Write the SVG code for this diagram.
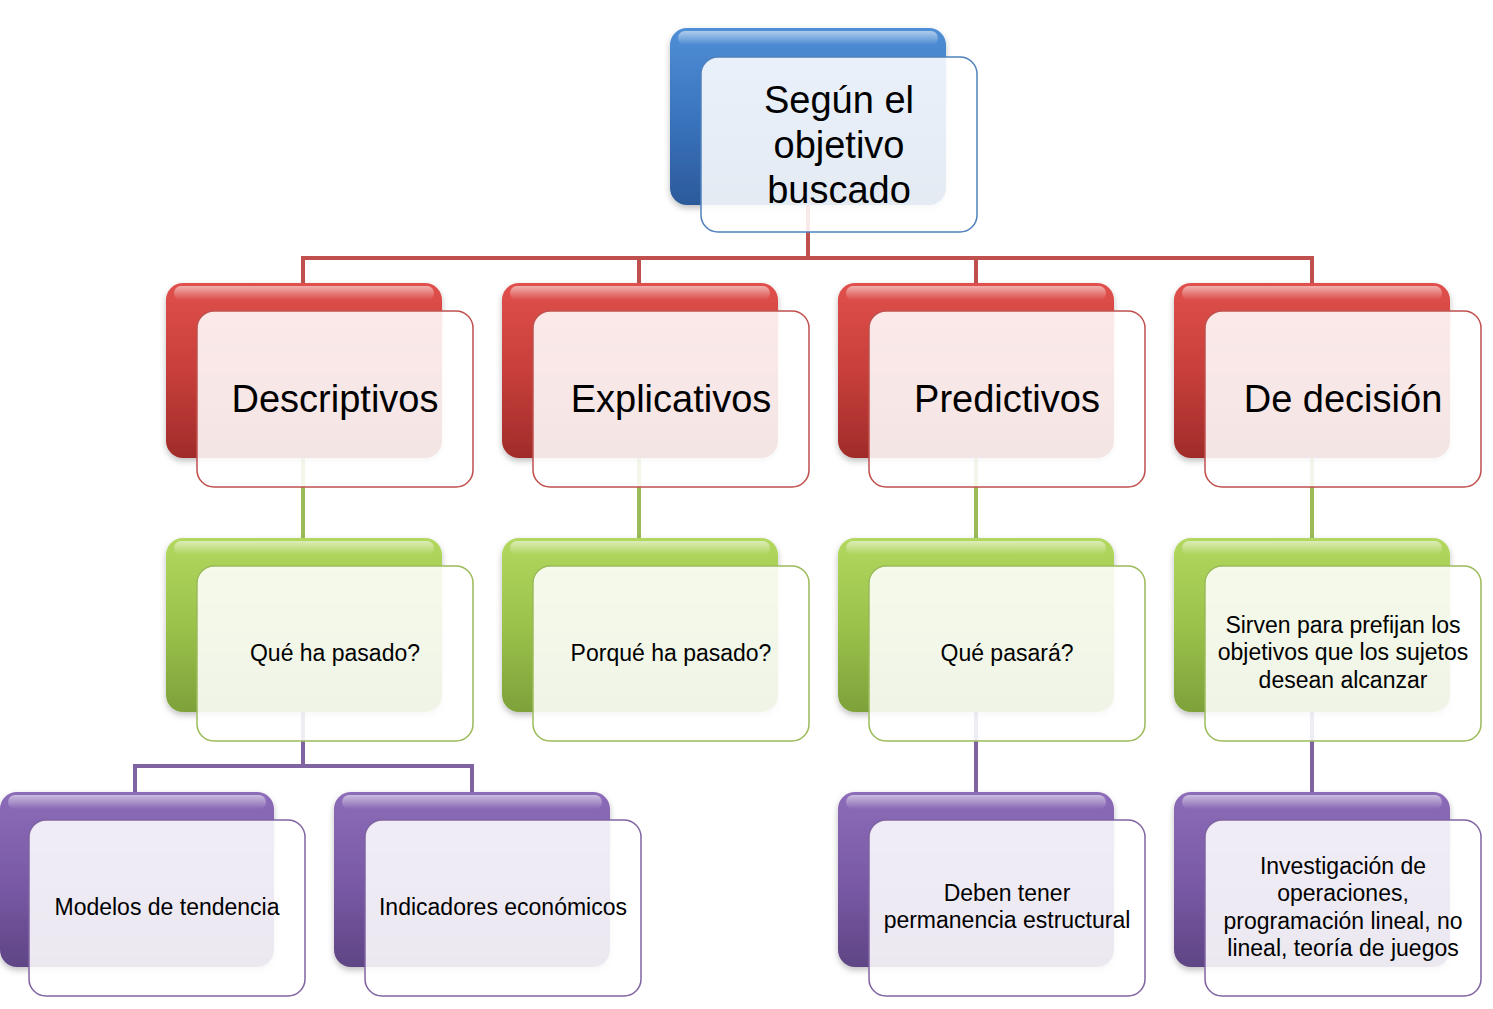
<svg xmlns="http://www.w3.org/2000/svg" width="1493" height="1009" viewBox="0 0 1493 1009">
<defs>
<linearGradient id="gB" x1="0" y1="0" x2="0" y2="1"><stop offset="0" stop-color="#4f8fd6"/><stop offset="0.5" stop-color="#3a74bf"/><stop offset="1" stop-color="#2c5a9a"/></linearGradient>
<linearGradient id="gR" x1="0" y1="0" x2="0" y2="1"><stop offset="0" stop-color="#e0504b"/><stop offset="0.5" stop-color="#c83f3b"/><stop offset="1" stop-color="#a02c2a"/></linearGradient>
<linearGradient id="gG" x1="0" y1="0" x2="0" y2="1"><stop offset="0" stop-color="#b2d85f"/><stop offset="0.5" stop-color="#9bc24b"/><stop offset="1" stop-color="#7ea13a"/></linearGradient>
<linearGradient id="gP" x1="0" y1="0" x2="0" y2="1"><stop offset="0" stop-color="#8c6cb8"/><stop offset="0.5" stop-color="#7a5aa6"/><stop offset="1" stop-color="#5f4585"/></linearGradient>
<linearGradient id="shine" x1="0" y1="0" x2="0" y2="1"><stop offset="0" stop-color="#fff" stop-opacity="0.55"/><stop offset="1" stop-color="#fff" stop-opacity="0"/></linearGradient>
<filter id="sh" x="-10%" y="-10%" width="120%" height="130%"><feDropShadow dx="0" dy="3" stdDeviation="3" flood-color="#000" flood-opacity="0.25"/></filter>
</defs>
<style>
.back{filter:url(#sh)}
.front{fill:#fff;fill-opacity:0.88;stroke-width:1.5}
.hl{fill:url(#shine)}
.t{font-family:"Liberation Sans","Open Sans",sans-serif;fill:#000;text-anchor:middle}
.big{font-size:38px}
.sm{font-size:23px}
.c{fill:none;stroke-width:4}
</style>
<g id="connectors">
<path class="c" stroke="#c0504d" d="M808 205V258M303 258H1312M303 256V290M639 256V290M976 256V290M1312 256V290"/>
<path class="c" stroke="#9bbb59" d="M303 458V545M639 458V545M976 458V545M1312 458V545"/>
<path class="c" stroke="#8064a2" d="M303 712V766M135 766H472M135 764V798M472 764V798M976 712V798M1312 712V798"/>
</g>
<g id="n0">
<rect class="back" x="670" y="28" width="276" height="177" rx="17" fill="url(#gB)"/>
<rect class="hl" x="678" y="31" width="260" height="14" rx="7"/>
<rect class="front" x="701" y="57" width="276" height="175" rx="17" stroke="#4f81bd"/>
<text class="t big" x="839" y="113">Según el</text>
<text class="t big" x="839" y="158">objetivo</text>
<text class="t big" x="839" y="203">buscado</text>
</g>
<g id="n1">
<rect class="back" x="166" y="283" width="276" height="175" rx="17" fill="url(#gR)"/>
<rect class="hl" x="174" y="286" width="260" height="14" rx="7"/>
<rect class="front" x="197" y="311" width="276" height="176" rx="17" stroke="#c0504d"/>
<text class="t big" x="335" y="412">Descriptivos</text>
</g>
<g id="n2">
<rect class="back" x="502" y="283" width="276" height="175" rx="17" fill="url(#gR)"/>
<rect class="hl" x="510" y="286" width="260" height="14" rx="7"/>
<rect class="front" x="533" y="311" width="276" height="176" rx="17" stroke="#c0504d"/>
<text class="t big" x="671" y="412">Explicativos</text>
</g>
<g id="n3">
<rect class="back" x="838" y="283" width="276" height="175" rx="17" fill="url(#gR)"/>
<rect class="hl" x="846" y="286" width="260" height="14" rx="7"/>
<rect class="front" x="869" y="311" width="276" height="176" rx="17" stroke="#c0504d"/>
<text class="t big" x="1007" y="412">Predictivos</text>
</g>
<g id="n4">
<rect class="back" x="1174" y="283" width="276" height="175" rx="17" fill="url(#gR)"/>
<rect class="hl" x="1182" y="286" width="260" height="14" rx="7"/>
<rect class="front" x="1205" y="311" width="276" height="176" rx="17" stroke="#c0504d"/>
<text class="t big" x="1343" y="412">De decisión</text>
</g>
<g id="n5">
<rect class="back" x="166" y="538" width="276" height="174" rx="17" fill="url(#gG)"/>
<rect class="hl" x="174" y="541" width="260" height="14" rx="7"/>
<rect class="front" x="197" y="566" width="276" height="175" rx="17" stroke="#9bbb59"/>
<text class="t sm" x="335" y="661">Qué ha pasado?</text>
</g>
<g id="n6">
<rect class="back" x="502" y="538" width="276" height="174" rx="17" fill="url(#gG)"/>
<rect class="hl" x="510" y="541" width="260" height="14" rx="7"/>
<rect class="front" x="533" y="566" width="276" height="175" rx="17" stroke="#9bbb59"/>
<text class="t sm" x="671" y="661">Porqué ha pasado?</text>
</g>
<g id="n7">
<rect class="back" x="838" y="538" width="276" height="174" rx="17" fill="url(#gG)"/>
<rect class="hl" x="846" y="541" width="260" height="14" rx="7"/>
<rect class="front" x="869" y="566" width="276" height="175" rx="17" stroke="#9bbb59"/>
<text class="t sm" x="1007" y="661">Qué pasará?</text>
</g>
<g id="n8">
<rect class="back" x="1174" y="538" width="276" height="174" rx="17" fill="url(#gG)"/>
<rect class="hl" x="1182" y="541" width="260" height="14" rx="7"/>
<rect class="front" x="1205" y="566" width="276" height="175" rx="17" stroke="#9bbb59"/>
<text class="t sm" x="1343" y="633">Sirven para prefijan los</text>
<text class="t sm" x="1343" y="660">objetivos que los sujetos</text>
<text class="t sm" x="1343" y="688">desean alcanzar</text>
</g>
<g id="n9">
<rect class="back" x="0" y="792" width="274" height="175" rx="17" fill="url(#gP)"/>
<rect class="hl" x="8" y="795" width="258" height="14" rx="7"/>
<rect class="front" x="29" y="820" width="276" height="176" rx="17" stroke="#8064a2"/>
<text class="t sm" x="167" y="915">Modelos de tendencia</text>
</g>
<g id="n10">
<rect class="back" x="334" y="792" width="276" height="175" rx="17" fill="url(#gP)"/>
<rect class="hl" x="342" y="795" width="260" height="14" rx="7"/>
<rect class="front" x="365" y="820" width="276" height="176" rx="17" stroke="#8064a2"/>
<text class="t sm" x="503" y="915">Indicadores económicos</text>
</g>
<g id="n11">
<rect class="back" x="838" y="792" width="276" height="175" rx="17" fill="url(#gP)"/>
<rect class="hl" x="846" y="795" width="260" height="14" rx="7"/>
<rect class="front" x="869" y="820" width="276" height="176" rx="17" stroke="#8064a2"/>
<text class="t sm" x="1007" y="901">Deben tener</text>
<text class="t sm" x="1007" y="928">permanencia estructural</text>
</g>
<g id="n12">
<rect class="back" x="1174" y="792" width="276" height="175" rx="17" fill="url(#gP)"/>
<rect class="hl" x="1182" y="795" width="260" height="14" rx="7"/>
<rect class="front" x="1205" y="820" width="276" height="176" rx="17" stroke="#8064a2"/>
<text class="t sm" x="1343" y="874">Investigación de</text>
<text class="t sm" x="1343" y="901">operaciones,</text>
<text class="t sm" x="1343" y="929">programación lineal, no</text>
<text class="t sm" x="1343" y="956">lineal, teoría de juegos</text>
</g>
</svg>
